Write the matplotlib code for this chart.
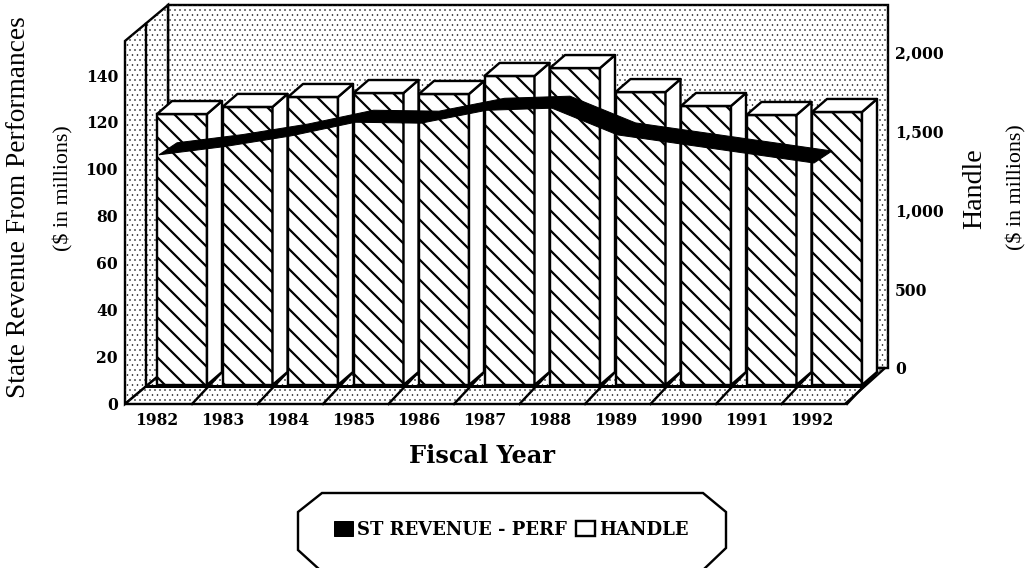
import matplotlib
matplotlib.use("Agg")
import matplotlib.pyplot as plt
import numpy as np
from matplotlib.patches import Polygon, Patch
from matplotlib.transforms import Affine2D, IdentityTransform

years = [1982, 1983, 1984, 1985, 1986, 1987, 1988, 1989, 1990, 1991, 1992]
handle = [1715, 1760, 1823, 1848, 1842, 1956, 2006, 1854, 1766, 1709, 1728]
revenue = [108.5, 112, 116.5, 122.4, 122, 127.5, 128.4, 117, 113, 109, 105]
left_ticks = [0, 20, 40, 60, 80, 100, 120, 140]
right_ticks = [0, 500, 1000, 1500, 2000]
right_labels = ["0", "500", "1,000", "1,500", "2,000"]

W, H, DPI = 1028, 568, 120
px = 72 / DPI
SERIF = "Liberation Serif"
BOLD = "DejaVu Serif"
plt.rcParams["hatch.linewidth"] = 2.2 * px

fig = plt.figure(figsize=(W / DPI, H / DPI), dpi=DPI, facecolor="white")
L, R, T, B = 125, 889, 5, 403
STEP = 65.5
X0 = 182
rect = [L / W, (H - B) / H, (R - L) / W, (B - T) / H]
ax = fig.add_axes(rect)
ax2 = ax.twinx()
ax.set_zorder(ax2.get_zorder() + 1)
ax.patch.set_visible(False)
ax2.patch.set_visible(False)
xlim = ((L - X0) / STEP, (R - X0) / STEP)
LS = (140 / (403 - 75))  # left units per pixel
HS = 2000 / (368 - 52)   # handle units per pixel
ax.set_xlim(*xlim)
ax2.set_xlim(*xlim)
ax.set_ylim(0, (B - T) * LS)
ax2.set_ylim((368 - B) * HS, (368 - T) * HS)
for a in (ax, ax2):
    for s in a.spines.values():
        s.set_visible(False)
    a.tick_params(length=0)

ax.set_yticks(left_ticks)
ax.set_yticklabels(left_ticks, family=BOLD, weight="bold", fontsize=15.5 * px)
ax.tick_params(axis="y", pad=7 * px)
ax2.set_yticks(right_ticks)
ax2.set_yticklabels(right_labels, family=BOLD, weight="bold", fontsize=15.5 * px)
ax2.tick_params(axis="y", pad=6 * px)
ax.set_xticks(np.arange(len(years)) - 25 / STEP)
ax.set_xticklabels(years, family=BOLD, weight="bold", fontsize=15.5 * px)
ax.tick_params(axis="x", pad=9 * px)

ident = IdentityTransform()
def P(pts):
    return [(x, H - y) for x, y in pts]

LW = 2.4 * px
def frame(pts, hatch=None, lw=LW, z=1, fc="white"):
    p = Polygon(P(pts), closed=True, transform=ident, facecolor=fc, edgecolor="black",
                linewidth=lw, clip_on=False, zorder=z)
    ax2.add_patch(p)
    if hatch:
        d = Polygon(P(pts), closed=True, transform=ident, facecolor="none", edgecolor="#222222",
                    linewidth=0, hatch=hatch, clip_on=False, zorder=z)
        d.set_hatch_linewidth(0.6 * px)
        ax2.add_patch(d)

DOTS = "...."
frame([(168, 5), (888, 5), (888, 368), (168, 368)], DOTS)
frame([(125, 41), (168, 5), (168, 368), (125, 404)], DOTS)
frame([(125, 404), (168, 368), (885, 368), (845, 404)], DOTS)
ax2.plot([146, 146], [H - 24, H - 386], color="black", lw=LW, transform=ident, clip_on=False, zorder=1.1)

# bars
W_BAR = 50 / STEP
DX = 15 / STEP
DY = 13 * HS
front = ax2.transData + Affine2D().translate(0, -17)
xs = np.arange(len(years))
for x in xs:
    r = x * STEP + X0 + 25
    ax2.plot([r - 15, r + 15], [H - 404, H - 372], color="black", lw=LW, transform=ident, clip_on=False, zorder=1.2)
ax2.plot([146, 860], [H - 385.5, H - 385.5], color="black", lw=3 * px, transform=ident, clip_on=False, zorder=1.2)
ax2.bar(xs, handle, width=W_BAR, transform=front, facecolor="white", edgecolor="black",
        linewidth=LW, hatch="\\\\", zorder=2)
for x, v in zip(xs, handle):
    r = x + W_BAR / 2
    l = x - W_BAR / 2
    ax2.add_patch(Polygon([(r, 0), (r + DX, DY), (r + DX, v + DY), (r, v)], closed=True, transform=front,
                          facecolor="white", edgecolor="black", linewidth=LW, joinstyle="round", zorder=2))
    ax2.add_patch(Polygon([(l, v), (l + DX, v + DY), (r + DX, v + DY), (r, v)], closed=True, transform=front,
                          facecolor="white", edgecolor="black", linewidth=LW, joinstyle="round", zorder=2))

# revenue ribbon
LINE_OFF = -14 / STEP
rx = xs + LINE_OFF
rv = np.array(revenue)
RX = 9 / STEP
RY = 6 * LS
top = list(zip(rx + RX, rv + RY))
bot = list(zip(rx - RX, rv - RY))
ax.add_patch(Polygon(top + bot[::-1], closed=True, facecolor="black", edgecolor="black",
                     linewidth=1 * px, zorder=5))

# titles
def label(x, y, s, size, rot=90, weight="normal", fam=SERIF):
    fig.text(x / W, 1 - y / H, s, rotation=rot, ha="center", va="center",
             family=fam, weight=weight, fontsize=size * px)

label(19, 207, "State Revenue From Performances", 27.4)
label(63, 188, "($ in millions)", 22)
label(975, 189, "Handle", 28)
label(1016, 187, "($ in millions)", 22)
label(482, 456, "Fiscal Year", 24, rot=0, weight="bold", fam=BOLD)

# legend frame (runs off the bottom of the picture)
oct_pts = [(298, 512), (322, 493), (703, 493), (726, 512), (726, 548), (703, 568 + 2), (320, 568 + 2), (298, 550)]
fig.add_artist(Polygon([(x / W, 1 - y / H) for x, y in oct_pts], closed=True, transform=fig.transFigure,
                       facecolor="white", edgecolor="black", linewidth=LW))
handles = [Patch(facecolor="black", edgecolor="black", linewidth=1 * px, label="ST REVENUE - PERF"),
           Patch(facecolor="white", edgecolor="black", linewidth=LW, label="HANDLE")]
leg = fig.legend(handles=handles, ncol=2, loc="center", bbox_to_anchor=(511.5 / W, 1 - 530 / H),
                 frameon=False, prop={"family": BOLD, "weight": "bold", "size": 18 * px},
                 handlelength=1.05, handleheight=0.9, handletextpad=0.25, columnspacing=0.5)
fig.savefig("out.png", dpi=DPI)
